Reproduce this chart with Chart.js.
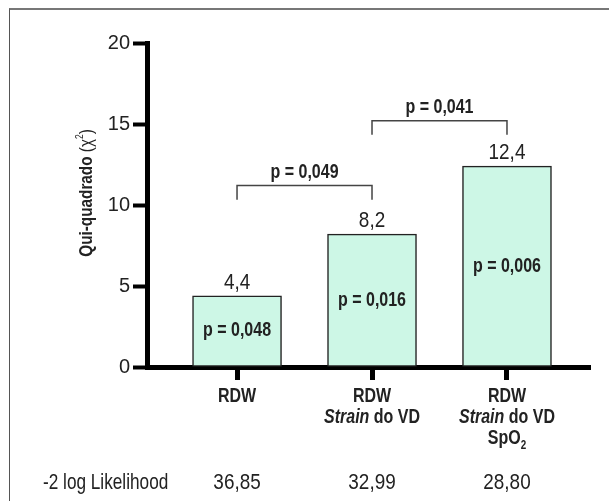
<!DOCTYPE html>
<html>
<head>
<meta charset="utf-8">
<script src="https://cdn.jsdelivr.net/npm/chart.js@4.4.1/dist/chart.umd.min.js"></script>
<style>
    html, body { margin: 0; padding: 0; background: #fff; }
    #wrap { position: relative; width: 609px; height: 501px; overflow: hidden; }
    #frame {
        position: absolute; left: 9px; top: 8px; width: 700px; height: 600px;
        border-left: 1px solid #555; border-top: 2px solid #777;
    }
    canvas { position: absolute; left: 0; top: 0; }
</style>
</head>
<body>
<div id="wrap">
    <div id="frame"></div>
    <canvas id="chart" width="609" height="501"></canvas>
</div>
<script>
// --- Data ---
const categories = [0, 1, 2];
const chiSquare = [4.4, 8.2, 12.4];
const valueLabels = ['4,4', '8,2', '12,4'];
const barPValues = ['p = 0,048', 'p = 0,016', 'p = 0,006'];
// category labels: *italic* parts, _x = subscript
const categoryLines = [
    ['RDW'],
    ['RDW', '*Strain* do VD'],
    ['RDW', '*Strain* do VD', 'SpO_2']
];
const likelihoodLabel = '-2 log Likelihood';
const likelihood = ['36,85', '32,99', '28,80'];
const yTicks = [0, 5, 10, 15, 20];
// pairwise comparisons (brackets)
const compareFrom = [0, 1];
const compareTo = [1, 2];
const compareLevel = [11.2, 15.2];
const compareP = ['p = 0,049', 'p = 0,041'];

const FONT = "'Liberation Sans', Arial, sans-serif";
const TEXT = '#222';
const NARROW = 0.82; // squeeze to look like a narrow face

// draw text squeezed horizontally
function fillNarrow(ctx, text, x, y, align, k) {
    ctx.save();
    ctx.translate(x, y);
    ctx.scale(k, 1);
    ctx.textAlign = align;
    ctx.fillText(text, 0, 0);
    ctx.restore();
}

// split "*Strain* do VD" / "SpO_2" into styled segments
function parseLine(line) {
    const segs = [];
    const re = /\*([^*]+)\*|_(\w)|([^*_]+)/g;
    let m;
    while ((m = re.exec(line)) !== null) {
        if (m[1]) segs.push({ text: m[1], italic: true });
        else if (m[2]) segs.push({ text: m[2], sub: true });
        else segs.push({ text: m[3] });
    }
    return segs;
}

function drawRich(ctx, segs, cx, y, size) {
    const fontFor = s => (s.italic ? 'italic ' : '') + 'bold ' + (s.sub ? Math.round(size * 0.6) : size) + 'px ' + FONT;
    let total = 0;
    segs.forEach(s => { ctx.font = fontFor(s); total += ctx.measureText(s.text).width * NARROW; });
    let x = cx - total / 2;
    segs.forEach(s => {
        ctx.font = fontFor(s);
        fillNarrow(ctx, s.text, x, s.sub ? y + size * 0.35 : y, 'left', NARROW);
        x += ctx.measureText(s.text).width * NARROW;
    });
}

const annotations = {
    id: 'annotations',
    afterDatasetsDraw(chart) {
        const ctx = chart.ctx;
        const xs = chart.scales.x;
        const ys = chart.scales.y;
        const bars = chart.getDatasetMeta(0).data;
        ctx.save();
        ctx.fillStyle = TEXT;

        // values above bars and p-values inside
        bars.forEach((bar, i) => {
            ctx.textBaseline = 'alphabetic';
            ctx.font = '21.5px ' + FONT;
            fillNarrow(ctx, valueLabels[i], bar.x, bar.y - 7, 'center', 0.88);
            ctx.font = 'bold 19.5px ' + FONT;
            ctx.textBaseline = 'middle';
            fillNarrow(ctx, barPValues[i], bar.x, (bar.y + bar.base) / 2, 'center', NARROW);
        });

        // comparison brackets
        ctx.strokeStyle = '#444';
        ctx.lineWidth = 1.5;
        compareFrom.forEach((a, i) => {
            const x1 = xs.getPixelForValue(categories[a]);
            const x2 = xs.getPixelForValue(categories[compareTo[i]]);
            const yTop = ys.getPixelForValue(compareLevel[i]);
            const yLeg = ys.getPixelForValue(compareLevel[i] - 0.87);
            ctx.beginPath();
            ctx.moveTo(x1, yLeg);
            ctx.lineTo(x1, yTop);
            ctx.lineTo(x2, yTop);
            ctx.lineTo(x2, yLeg);
            ctx.stroke();
            ctx.textBaseline = 'middle';
            ctx.font = 'bold 19.5px ' + FONT;
            fillNarrow(ctx, compareP[i], (x1 + x2) / 2, yTop - 13, 'center', NARROW);
        });

        // category labels
        ctx.textBaseline = 'middle';
        categoryLines.forEach((lines, i) => {
            const cx = xs.getPixelForValue(categories[i]);
            lines.forEach((line, k) => {
                drawRich(ctx, parseLine(line), cx, xs.bottom - 104 + k * 21, 19.5);
            });
        });

        // likelihood row
        ctx.font = '21.5px ' + FONT;
        fillNarrow(ctx, likelihoodLabel, 43, xs.bottom - 18, 'left', 0.8);
        likelihood.forEach((v, i) => {
            fillNarrow(ctx, v, xs.getPixelForValue(categories[i]), xs.bottom - 18, 'center', 0.88);
        });

        // y axis title
        ctx.translate(87, (ys.top + ys.bottom) / 2 - 12);
        ctx.rotate(-Math.PI / 2);
        const parts = [
            { t: 'Qui-quadrado ', f: 'bold 18px ' + FONT, dy: 0 },
            { t: '(\u03c7', f: '18px ' + FONT, dy: 0 },
            { t: '2', f: '10px ' + FONT, dy: -7 },
            { t: ')', f: '18px ' + FONT, dy: 0 }
        ];
        let w = 0;
        parts.forEach(p => { ctx.font = p.f; w += ctx.measureText(p.t).width * 0.85; });
        let px = -w / 2;
        parts.forEach(p => {
            ctx.font = p.f;
            fillNarrow(ctx, p.t, px, p.dy, 'left', 0.85);
            px += ctx.measureText(p.t).width * 0.85;
        });
        ctx.restore();
    }
};

Chart.defaults.font.family = FONT;
Chart.defaults.color = TEXT;

new Chart(document.getElementById('chart'), {
    type: 'bar',
    data: {
        datasets: [{
            data: categories.map((c, i) => ({ x: c, y: chiSquare[i] })),
            backgroundColor: '#cdf7e6',
            borderColor: '#222',
            borderWidth: 1.5,
            borderSkipped: false,
            barThickness: 89
        }]
    },
    options: {
        responsive: false,
        animation: false,
        layout: { padding: { left: 0, top: 43, right: 19, bottom: 0 } },
        plugins: { legend: { display: false }, tooltip: { enabled: false } },
        scales: {
            x: {
                type: 'linear',
                offset: false,
                min: -0.667,
                max: 2.615,
                afterBuildTicks: s => { s.ticks = categories.map(v => ({ value: v })); },
                afterFit: s => { s.height = 134; },
                ticks: { display: false },
                grid: { offset: false, drawOnChartArea: false, tickLength: 13, tickWidth: 5, tickColor: '#000' },
                border: { color: '#000', width: 5 }
            },
            y: {
                min: 0,
                max: 20,
                afterBuildTicks: s => { s.ticks = yTicks.map(v => ({ value: v })); },
                afterFit: s => { s.width = 147; },
                ticks: { font: { size: 20 }, color: TEXT, padding: 3 },
                grid: { drawOnChartArea: false, tickLength: 14, tickWidth: 4, tickColor: '#000' },
                border: { color: '#000', width: 5 }
            }
        }
    },
    plugins: [annotations]
});
</script>
</body>
</html>
